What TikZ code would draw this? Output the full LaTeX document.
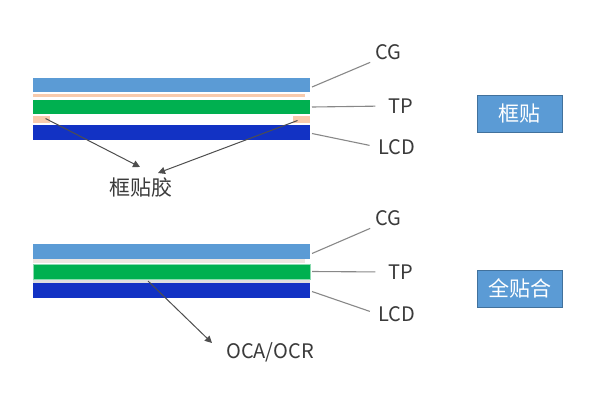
\documentclass[tikz,border=0pt]{standalone}
\usepackage{fontspec}
\setmainfont{Noto Sans CJK SC}
\usetikzlibrary{arrows.meta}
\definecolor{cgblue}{HTML}{5B9BD5}
\definecolor{peach}{HTML}{F8CBAD}
\definecolor{tpgreen}{HTML}{00B050}
\definecolor{lcdblue}{HTML}{1232C4}
\definecolor{txt}{HTML}{3A3A3A}
\definecolor{lineg}{HTML}{888888}
\definecolor{boxborder}{HTML}{41719C}
\tikzset{
  layer/.style={draw=none, inner sep=0pt, outer sep=0pt, anchor=north west},
  lab/.style={text=txt, font=\fontsize{20}{24}\selectfont, inner sep=1pt},
  leader/.style={draw=lineg, line width=1.1pt},
  pointer/.style={draw=txt!90, line width=1pt, -{Triangle[length=7pt,width=7pt]}},
  tag/.style={draw=boxborder, line width=0.8pt, fill=cgblue, text=white, minimum width=85pt, minimum height=37pt, inner sep=0pt, font=\fontsize{21}{24}\selectfont},
}
\begin{document}
\begin{tikzpicture}[x=1pt,y=-1pt]
\useasboundingbox (0,0) rectangle (600,400);
% ---------- top stack (frame bonding) ----------
\node[layer, fill=cgblue, minimum width=277pt, minimum height=14pt] (cg1) at (33,78) {};
\node[layer, fill=peach, minimum width=272pt, minimum height=3pt] (ad1) at (33,94) {};
\node[layer, fill=tpgreen, minimum width=277pt, minimum height=14pt] (tp1) at (33,100) {};
\node[layer, fill=peach, minimum width=17pt, minimum height=7pt] (gl) at (33,116) {};
\node[layer, fill=peach, minimum width=17pt, minimum height=7pt] (gr) at (293,116) {};
\node[layer, fill=lcdblue, minimum width=277pt, minimum height=15pt] (lcd1) at (33,125) {};
\node[lab] (cgt1) at (388,52) {CG};
\node[lab] (tpt1) at (401,106) {TP};
\node[lab] (lcdt1) at (397,147) {LCD};
\draw[leader, shorten >=4pt] ([xshift=2pt,yshift=-2pt]cg1.east) -- (cgt1.south west);
\draw[leader, shorten >=12pt] ([xshift=2pt]tp1.east) -- (tpt1.west);
\draw[leader, shorten >=8pt] ([xshift=2pt,yshift=-1pt]lcd1.east) -- (lcdt1.west);
\node[lab, font=\fontsize{21}{24}\selectfont] (kj) at (141,188) {框贴胶};
\coordinate (kjl) at (140,167);
\coordinate (kjr) at (158,173);
\draw[pointer] ([xshift=4pt,yshift=1pt]gl.center) -- (kjl);
\draw[pointer] ([xshift=-4pt,yshift=-1pt]gr.center) -- (kjr);
\node[tag] (box1) at (519.5,113.5) {框贴};
% ---------- bottom stack (full lamination) ----------
\node[layer, fill=cgblue, minimum width=277pt, minimum height=15pt] (cg2) at (33,244) {};
\node[layer, fill=peach!60!gray!30, minimum width=272pt, minimum height=4pt] (ad2) at (33,259) {};
\node[layer, fill=tpgreen, draw=tpgreen!45, line width=0.8pt, minimum width=277pt, minimum height=15pt] (tp2) at (33,264) {};
\node[layer, fill=gray!25, minimum width=277pt, minimum height=3pt] (oca) at (33,280) {};
\node[layer, fill=lcdblue, minimum width=277pt, minimum height=15pt] (lcd2) at (33,283) {};
\node[lab] (cgt2) at (388,218) {CG};
\node[lab] (tpt2) at (401,272) {TP};
\node[lab] (lcdt2) at (397,314) {LCD};
\draw[leader, shorten >=4pt] ([xshift=2pt,yshift=-2pt]cg2.east) -- (cgt2.south west);
\draw[leader, shorten >=12pt] ([xshift=2pt]tp2.east) -- (tpt2.west);
\draw[leader, shorten >=8pt] ([xshift=2pt,yshift=-1pt]lcd2.east) -- (lcdt2.west);
\node[lab] (ocat) at (270,352) {OCA/OCR};
\coordinate (ocap) at (148,281);
\draw[pointer] (ocap) -- (212,343);
\node[tag] (box2) at (519.5,288.5) {全贴合};
\end{tikzpicture}
\end{document}
